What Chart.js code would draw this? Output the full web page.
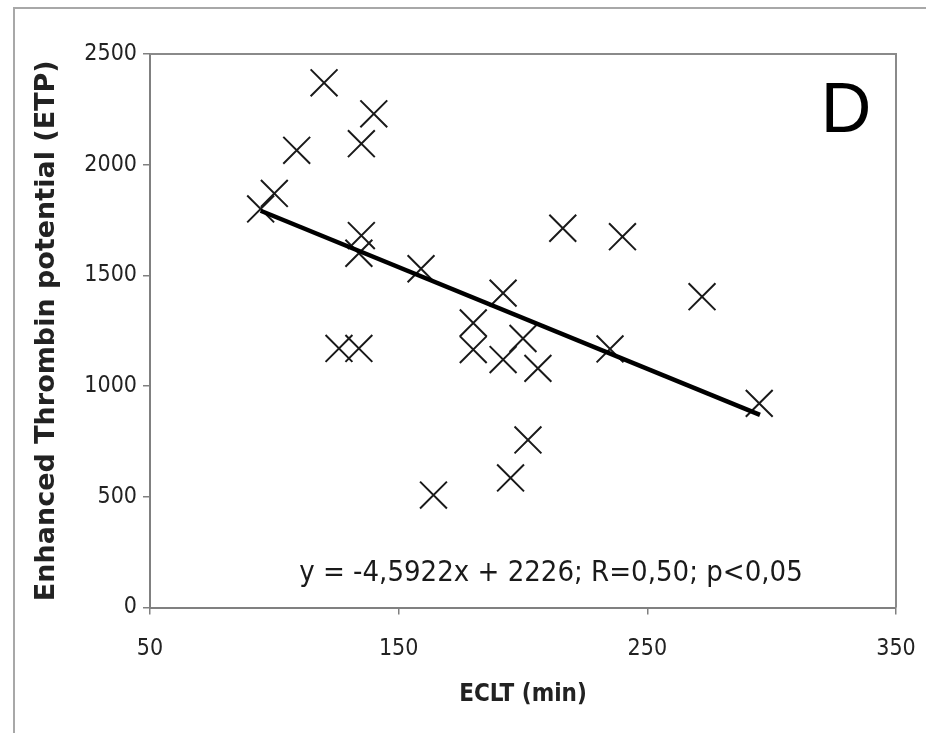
<!DOCTYPE html>
<html>
<head>
<meta charset="utf-8">
<script src="https://cdn.jsdelivr.net/npm/chart.js@4/dist/chart.umd.min.js"></script>
<style>
  html, body { margin: 0; padding: 0; background: #ffffff; }
  #wrap { width: 932px; height: 738px; position: relative; }
</style>
</head>
<body>
<div id="wrap"><canvas id="c" width="932" height="738"></canvas></div>
<script>
// ECLT (min) vs Enhanced Thrombin potential (ETP)
const ecltValues = [94.5, 100, 109, 120, 140, 135, 135, 134, 126, 134, 159, 180, 180, 192, 200, 192, 206, 202, 195, 164, 216, 240, 235, 272, 295];
const etpValues  = [1800, 1870, 2065, 2370, 2230, 2095, 1680, 1600, 1170, 1170, 1530, 1285, 1165, 1420, 1215, 1120, 1080, 757, 585, 508, 1713, 1675, 1168, 1404, 922];
// Regression line end points (y = -4.5922x + 2226)
const trendX = [94.5, 295.3];
const trendY = [1792, 870];
const xTicks = [50, 150, 250, 350];
const yTicks = [0, 500, 1000, 1500, 2000, 2500];
const xTitle = 'ECLT (min)';
const yTitle = 'Enhanced Thrombin potential (ETP)';
const equationText = 'y = -4,5922x + 2226; R=0,50; p<0,05';
const panelLabel = 'D';

const scatterPoints = ecltValues.map((x, i) => ({ x: x, y: etpValues[i] }));
const trendPoints = trendX.map((x, i) => ({ x: x, y: trendY[i] }));

const NARROW = '"DejaVu Sans Condensed", "Liberation Sans Narrow", "Liberation Sans", sans-serif';

const decor = {
  id: 'decor',
  beforeDraw(chart) {
    const ctx = chart.ctx;
    ctx.save();
    ctx.fillStyle = '#ffffff';
    ctx.fillRect(0, 0, chart.width, chart.height);
    ctx.strokeStyle = '#a8a8a8';
    ctx.lineWidth = 2;
    ctx.beginPath();
    ctx.moveTo(926, 8); ctx.lineTo(14, 8); ctx.lineTo(14, 733);
    ctx.stroke();
    ctx.restore();
  },
  afterDatasetsDraw(chart) {
    const ctx = chart.ctx;
    const a = chart.chartArea;
    ctx.save();
    ctx.strokeStyle = '#8a8a8a';
    ctx.lineWidth = 2;
    ctx.beginPath();
    ctx.moveTo(a.left, a.top); ctx.lineTo(a.right, a.top); ctx.lineTo(a.right, a.bottom);
    ctx.stroke();
    ctx.fillStyle = '#1a1a1a';
    ctx.font = '29px ' + NARROW;
    ctx.textAlign = 'center';
    ctx.textBaseline = 'middle';
    ctx.fillText(equationText, 551, 573);
    ctx.font = '70px "Liberation Sans", Arial, sans-serif';
    ctx.fillStyle = '#000';
    ctx.fillText(panelLabel, 846, 113);
    ctx.restore();
  }
};

new Chart(document.getElementById('c'), {
  type: 'scatter',
  data: {
    datasets: [
      {
        type: 'scatter',
        data: scatterPoints,
        pointStyle: 'crossRot',
        pointRadius: 19,
        pointHoverRadius: 19,
        pointBorderWidth: 2,
        borderColor: '#1a1a1a',
        backgroundColor: '#1a1a1a',
        order: 2
      },
      {
        type: 'line',
        data: trendPoints,
        borderColor: '#000',
        borderWidth: 4.5,
        pointRadius: 0,
        fill: false,
        showLine: true,
        order: 1
      }
    ]
  },
  plugins: [decor],
  options: {
    responsive: false,
    animation: false,
    devicePixelRatio: 1,
    layout: { padding: { left: 0, top: 54, right: 36, bottom: 0 } },
    plugins: { legend: { display: false }, tooltip: { enabled: false } },
    scales: {
      x: {
        type: 'linear',
        min: 50, max: 350,
        afterFit(s) { s.height = 130.5; s.paddingLeft = 0; s.paddingRight = 0; },
        afterBuildTicks(s) { s.ticks = xTicks.map(v => ({ value: v })); },
        border: { display: true, color: '#808080', width: 2 },
        grid: { display: true, drawOnChartArea: false, drawTicks: true, tickLength: 7, color: '#808080', lineWidth: 1.5 },
        ticks: { color: '#222', padding: 21, font: { family: NARROW, size: 23 }, maxRotation: 0, callback: v => String(v) },
        title: { display: true, text: xTitle, color: '#222', font: { family: NARROW, size: 24, weight: 'bold' }, padding: { top: 0, bottom: 29 } }
      },
      y: {
        type: 'linear',
        min: 0, max: 2500,
        afterFit(s) { s.width = 150; s.paddingTop = 0; s.paddingBottom = 0; },
        afterBuildTicks(s) { s.ticks = yTicks.map(v => ({ value: v })); },
        border: { display: true, color: '#808080', width: 2 },
        grid: { display: true, drawOnChartArea: false, drawTicks: true, tickLength: 7, color: '#808080', lineWidth: 1.5 },
        ticks: { color: '#222', padding: 6, font: { family: NARROW, size: 23 }, callback: v => String(v) },
        title: { display: true, text: yTitle, color: '#222', font: { family: '"DejaVu Sans", sans-serif', size: 27, weight: 'bold' }, padding: { top: 31, bottom: 0 } }
      }
    }
  }
});
</script>
</body>
</html>
